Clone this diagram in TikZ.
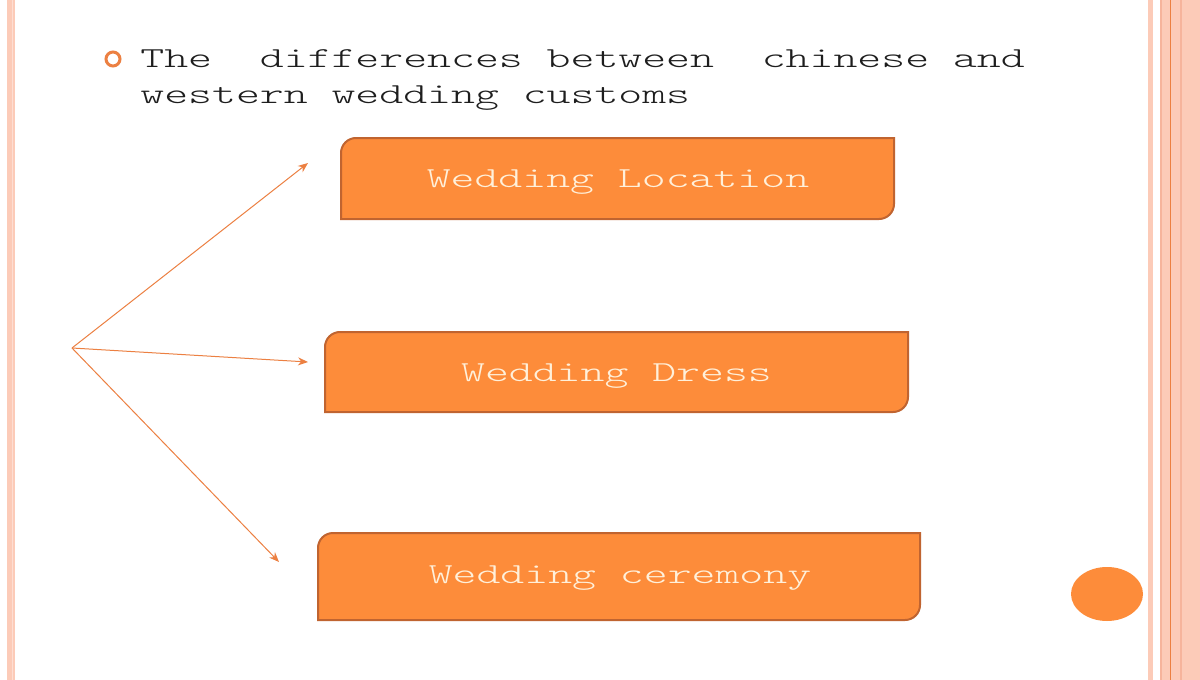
\documentclass[tikz,border=0pt]{standalone}
\usepackage{fontspec}
\usetikzlibrary{arrows.meta}
\newfontfamily\monofont[FakeStretch=1.57]{Latin Modern Mono Light}
\definecolor{stripe}{RGB}{252,203,184}
\definecolor{stripelt}{RGB}{254,222,210}
\definecolor{stripedk}{RGB}{246,180,156}
\definecolor{orline}{RGB}{236,128,66}
\definecolor{boxfill}{RGB}{253,140,58}
\definecolor{boxedge}{RGB}{192,100,48}
\definecolor{boxtext}{RGB}{255,240,218}
\definecolor{headtext}{RGB}{30,30,30}
\tikzset{
  boxshape/.style={fill=boxfill,draw=boxedge,line width=1pt},
  boxlabel/.style={anchor=base,inner sep=0pt,text=boxtext,font=\monofont\fontsize{14.5}{17}\selectfont},
  headline/.style={anchor=base west,inner sep=0pt,text=headtext,font=\monofont\fontsize{14.5}{17}\selectfont},
  link/.style={draw=orline,line width=0.5pt,-{Stealth[length=5pt,width=4pt]}}
}
\begin{document}
\begin{tikzpicture}[x=0.5pt,y=-0.5pt]
\useasboundingbox (0,0) rectangle (1200,680);
\fill[white] (0,0) rectangle (1200,680);
% left stripe
\fill[stripe] (7,0) rectangle (15,680);
\fill[stripelt] (11.5,0) rectangle (12.5,680);
% right stripes
\fill[stripe] (1148,0) rectangle (1153,680);
\fill[stripe] (1160,0) rectangle (1200,680);
\fill[stripedk] (1160,0) rectangle (1161.5,680);
\fill[orline] (1169.5,0) rectangle (1171,680);
\fill[stripedk] (1180,0) rectangle (1182,680);
% bullet
\draw[orline,line width=1.5pt] (113,59) circle[radius=7];
% header
\node[headline] (h1) at (140,67) {The\ \ differences between\ \ chinese and};
\node[headline] (h2) at (140,103) {western wedding customs};
% boxes
\path[boxshape] (341,219) -- (341,153) .. controls (341,144.7) and (347.7,138) .. (356,138) -- (894,138) -- (894,204) .. controls (894,212.3) and (887.3,219) .. (879,219) -- cycle;
\path[boxshape] (325,412) -- (325,347) .. controls (325,338.7) and (331.7,332) .. (340,332) -- (908,332) -- (908,397) .. controls (908,405.3) and (901.3,412) .. (893,412) -- cycle;
\path[boxshape] (318,620) -- (318,548) .. controls (318,539.7) and (324.7,533) .. (333,533) -- (920,533) -- (920,605) .. controls (920,613.3) and (913.3,620) .. (905,620) -- cycle;
\node[boxlabel] (b1) at (618,187) {Wedding Location};
\node[boxlabel] (b2) at (616.5,381) {Wedding Dress};
\node[boxlabel] (b3) at (620,583) {Wedding ceremony};
% arrows
\coordinate (o) at (72,348);
\coordinate (t1) at (308,163);
\coordinate (t2) at (308,362);
\coordinate (t3) at (279,562);
\draw[link] (o) -- (t1);
\draw[link] (o) -- (t2);
\draw[link] (o) -- (t3);
% circle
\fill[boxfill] (1107,594) ellipse[x radius=36,y radius=27];
\end{tikzpicture}
\end{document}
